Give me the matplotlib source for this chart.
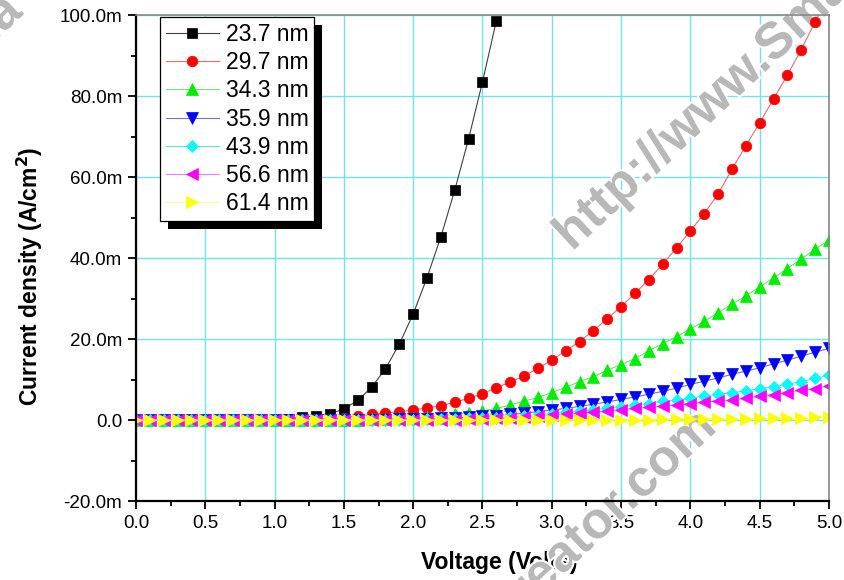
import numpy as np
import matplotlib
matplotlib.use('Agg')
import matplotlib.pyplot as plt
from matplotlib.ticker import FuncFormatter, MultipleLocator
from matplotlib.patches import Rectangle
import matplotlib.patheffects as pe

plt.rcParams['font.family'] = ['Liberation Sans', 'DejaVu Sans']

# bias voltage (V)
voltage = [0.0, 0.1, 0.2, 0.3, 0.4, 0.5, 0.6, 0.7, 0.8, 0.9,
           1.0, 1.1, 1.2, 1.3, 1.4, 1.5, 1.6, 1.7, 1.8, 1.9,
           2.0, 2.1, 2.2, 2.3, 2.4, 2.5, 2.6, 2.7, 2.8, 2.9,
           3.0, 3.1, 3.2, 3.3, 3.4, 3.5, 3.6, 3.7, 3.8, 3.9,
           4.0, 4.1, 4.2, 4.3, 4.4, 4.5, 4.6, 4.7, 4.8, 4.9, 5.0]

# current density in mA/cm2, one list per layer thickness
j_237 = [0.0, 0.0, 0.0, 0.0, 0.0, 0.0, 0.0, 0.0, 0.02, 0.05,
         0.1, 0.3, 0.7, 1.1, 1.6, 2.7, 4.9, 8.1, 12.7, 18.8,
         26.2, 35.2, 45.3, 56.8, 69.5, 83.5, 98.6]
j_297 = [0.0, 0.0, 0.0, 0.0, 0.0, 0.0, 0.0, 0.0, 0.0, 0.0,
         0.05, 0.1, 0.15, 0.2, 0.35, 0.6, 1.0, 1.4, 1.8, 2.1,
         2.5, 3.0, 3.6, 4.4, 5.4, 6.5, 8.0, 9.4, 10.9, 12.8,
         14.8, 17.1, 19.4, 22.1, 25.0, 28.0, 31.3, 34.7, 38.5, 42.5,
         46.7, 51.0, 55.8, 62.0, 67.7, 73.4, 79.3, 85.2, 91.5, 98.3, 105.0]
j_343 = [0.0, 0.0, 0.0, 0.0, 0.0, 0.0, 0.0, 0.0, 0.0, 0.0,
         0.0, 0.0, 0.05, 0.05, 0.1, 0.1, 0.15, 0.2, 0.3, 0.4,
         0.5, 0.7, 1.0, 1.4, 1.8, 2.3, 2.9, 3.7, 4.7, 5.6,
         6.8, 8.1, 9.5, 10.7, 12.3, 13.7, 15.2, 17.1, 18.9, 20.6,
         22.5, 24.4, 26.5, 28.6, 30.7, 32.9, 35.1, 37.4, 39.8, 42.2, 44.4]
j_359 = [0.0, 0.0, 0.0, 0.0, 0.0, 0.0, 0.0, 0.0, 0.0, 0.0,
         0.0, 0.0, 0.0, 0.0, 0.05, 0.05, 0.1, 0.1, 0.15, 0.2,
         0.2, 0.3, 0.4, 0.5, 0.7, 0.9, 1.1, 1.4, 1.7, 2.1,
         2.5, 2.9, 3.4, 3.9, 4.5, 5.1, 5.7, 6.4, 7.1, 7.9,
         8.8, 9.6, 10.4, 11.3, 12.1, 12.9, 13.9, 14.8, 15.8, 16.8, 17.7]
j_439 = [0.0, 0.0, 0.0, 0.0, 0.0, 0.0, 0.0, 0.0, 0.0, 0.0,
         0.0, 0.0, 0.0, 0.0, 0.0, 0.05, 0.05, 0.1, 0.1, 0.15,
         0.15, 0.2, 0.25, 0.3, 0.4, 0.5, 0.6, 0.8, 1.0, 1.3,
         1.6, 1.9, 2.2, 2.6, 3.0, 3.3, 3.7, 4.1, 4.6, 4.9,
         5.4, 5.9, 6.4, 6.8, 7.2, 7.8, 8.2, 8.9, 9.5, 10.3, 11.1]
j_566 = [0.0, 0.0, 0.0, 0.0, 0.0, 0.0, 0.0, 0.0, 0.0, 0.0,
         0.0, 0.0, 0.0, 0.0, 0.0, 0.0, 0.05, 0.05, 0.05, 0.1,
         0.1, 0.1, 0.15, 0.15, 0.2, 0.3, 0.4, 0.5, 0.7, 0.9,
         1.2, 1.5, 1.8, 2.0, 2.3, 2.6, 2.9, 3.2, 3.5, 3.8,
         4.1, 4.4, 4.8, 4.9, 5.4, 5.9, 6.3, 6.8, 7.4, 7.8, 8.5]
j_614 = [0.0, 0.0, 0.0, 0.0, 0.0, 0.0, 0.0, 0.0, 0.0, 0.0,
         0.0, 0.0, 0.0, 0.0, 0.0, 0.0, 0.0, 0.0, 0.0, 0.0,
         0.0, 0.0, 0.0, 0.0, 0.0, 0.0, 0.0, 0.0, 0.05, 0.05,
         0.05, 0.05, 0.1, 0.1, 0.1, 0.1, 0.15, 0.15, 0.2, 0.2,
         0.2, 0.25, 0.3, 0.3, 0.35, 0.4, 0.45, 0.5, 0.6, 0.7, 0.8]

labels = ['23.7 nm', '29.7 nm', '34.3 nm', '35.9 nm', '43.9 nm', '56.6 nm', '61.4 nm']
series = [j_237, j_297, j_343, j_359, j_439, j_566, j_614]

# (marker, marker colour, line colour, marker size)
styles = [('s', 'black', '#404040', 7.0),
          ('o', '#ff0000', '#e07070', 7.6),
          ('^', '#00ee00', '#70e070', 8.0),
          ('v', '#0000ff', '#7070d0', 8.0),
          ('D', '#00ffff', '#50e8e8', 5.8),
          ('<', '#ff00ff', '#f080f0', 8.0),
          ('>', '#ffff00', '#ffff90', 8.0)]

fig = plt.figure(figsize=(8.45, 5.8), dpi=100)
ax = fig.add_axes([0.161, 0.136, 0.82, 0.838])

for j, lab, (mk, mc, lc, ms) in zip(series, labels, styles):
    x = voltage[:len(j)]
    ax.plot(x, j, color=lc, lw=0.8, marker=mk, ms=ms,
            markerfacecolor=mc, markeredgecolor=mc, markeredgewidth=0.5,
            label=lab, clip_on=True)

ax.set_xlim(0, 5)
ax.set_ylim(-20, 100)
ax.xaxis.set_major_locator(MultipleLocator(0.5))
ax.xaxis.set_minor_locator(MultipleLocator(0.25))
ax.yaxis.set_major_locator(MultipleLocator(20))
ax.yaxis.set_minor_locator(MultipleLocator(10))
ax.xaxis.set_major_formatter(FuncFormatter(lambda v, p: '%.1f' % v))
ax.yaxis.set_major_formatter(FuncFormatter(lambda v, p: '0.0' if abs(v) < 1e-9 else '%.1fm' % v))

ax.grid(True, which='major', color='#70e4e8', lw=1.0)
ax.set_axisbelow(True)

for s in ['left', 'bottom']:
    ax.spines[s].set_linewidth(1.6)
    ax.spines[s].set_color('black')
for s in ['top', 'right']:
    ax.spines[s].set_linewidth(1.2)
    ax.spines[s].set_color('#888888')

ax.tick_params(which='major', direction='out', length=6, width=1.3, labelsize=13.5, pad=4,
               top=False, right=False)
ax.tick_params(which='minor', direction='out', length=3.5, width=1.3, top=False, right=False)

ax.set_xlabel('Voltage (Volts)', fontsize=16.5, fontweight='bold')
ax.set_ylabel('Current density (A/cm$^\\mathbf{2}$)', fontsize=16.5, fontweight='bold')
ax.xaxis.set_label_coords(0.524, -0.103)
ax.yaxis.set_label_coords(-0.131, 0.463)

leg = ax.legend(loc='upper left', bbox_to_anchor=(0.035, 0.996), borderaxespad=0,
                fontsize=16.5, numpoints=1, handlelength=2.3, handletextpad=0.3,
                labelspacing=0.23, borderpad=0.25, fancybox=False, framealpha=1,
                edgecolor='black')
leg.get_frame().set_linewidth(0.9)
leg.set_zorder(6)

# solid black drop shadow behind the legend box
fig.canvas.draw()
bb = leg.get_window_extent()
shadow = Rectangle((bb.x0 + 8, bb.y0 - 8), bb.width, bb.height, transform=None,
                   facecolor='black', edgecolor='none', zorder=5.5)
ax.add_artist(shadow)

# grey site stamp: above the axis labels, below the data markers
wm = dict(color='#b8b8b8', fontsize=37, fontweight='bold', rotation=43,
          rotation_mode='anchor', va='baseline', transform=fig.transFigure,
          clip_on=False, zorder=1.5,
          path_effects=[pe.withStroke(linewidth=3, foreground='white')])
ax.text(572 / 845, 1 - 252 / 580, 'http://www.Sma', ha='left', **wm)
ax.text(718 / 845, 1 - 430 / 580, 'Creator.com', ha='right', **wm)
ax.text(24 / 845, 1 - 14 / 580, 'Sma', ha='right', **wm)

fig.savefig('out.png', dpi=100)
